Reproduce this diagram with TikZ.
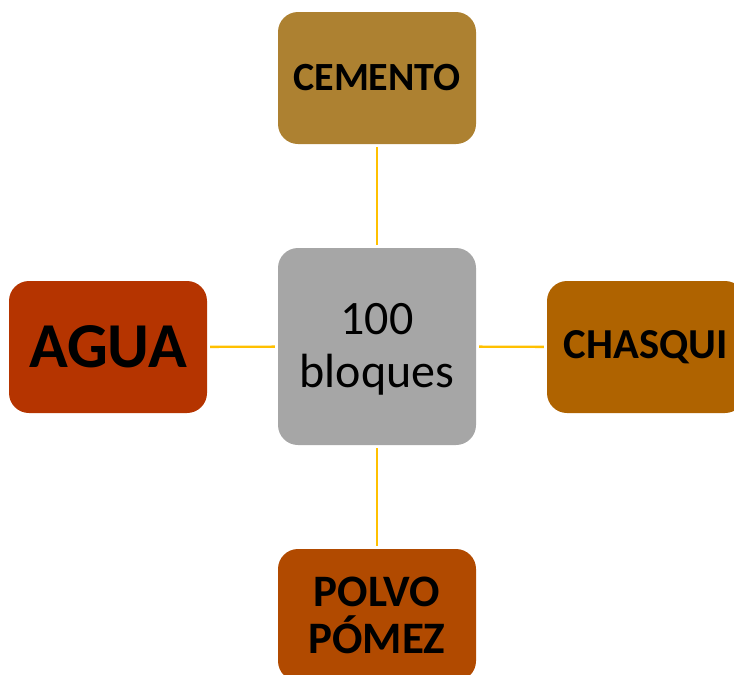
\documentclass[tikz,border=0pt]{standalone}
\usepackage{fontspec}
\setmainfont{Carlito}
\definecolor{cemento}{HTML}{AD8131}
\definecolor{agua}{HTML}{B53400}
\definecolor{chasqui}{HTML}{AF6300}
\definecolor{polvo}{HTML}{B14A00}
\definecolor{centro}{HTML}{A6A6A6}
\definecolor{linea}{HTML}{FFC000}
\tikzset{
  box/.style={rectangle, rounded corners=20pt, minimum width=198pt, minimum height=132pt, inner sep=0pt, align=center, text=black},
  link/.style={draw=linea, line width=2.4pt, shorten <=3pt, shorten >=3pt}
}
\begin{document}
\begin{tikzpicture}[x=1pt,y=-1pt]
\useasboundingbox (0,0) rectangle (734,675);
\clip (0,0) rectangle (734,675);
\node[box, fill=centro, minimum height=197pt, font=\fontsize{48}{53}\selectfont] (c) at (377,346.5) {};
\node[font=\fontsize{48}{53}\selectfont, align=center, inner sep=0pt] (ctext) at (377,349.5) {100\\bloques};
\node[box, fill=cemento, font=\fontsize{40}{48}\selectfont\bfseries] (cem) at (377,78) {CEMENTO};
\node[box, fill=agua, font=\fontsize{64}{64}\selectfont\bfseries] (agua) at (108,347) {AGUA};
\node[box, fill=chasqui, font=\fontsize{42.7}{48}\selectfont\bfseries] (chas) at (646,347) {CHASQUI};
\node[box, fill=polvo, font=\fontsize{45}{47}\selectfont\bfseries] (pol) at (377,615) {POLVO\\PÓMEZ};
\draw[link] (c) -- (cem);
\draw[link] (c) -- (agua);
\draw[link] (c) -- (chas);
\draw[link] (c) -- (pol);
\end{tikzpicture}
\end{document}
